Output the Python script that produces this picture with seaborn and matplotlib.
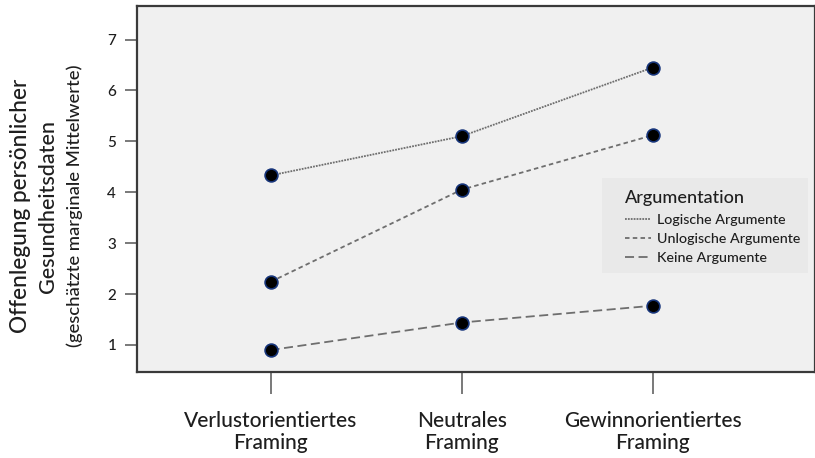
import pandas as pd
import numpy as np
import matplotlib.pyplot as plt
from matplotlib.patches import Rectangle
import seaborn as sns

############################################################
# DATA
############################################################
framing = ["Verlustorientiertes\nFraming", "Neutrales\nFraming", "Gewinnorientiertes\nFraming"]
argument_groups = ["Logische Argumente", "Unlogische Argumente", "Keine Argumente"]

logisch = [4.33, 5.10, 6.45]
unlogisch = [2.24, 4.05, 5.12]
keine = [0.90, 1.44, 1.77]

y_ticks = [1, 2, 3, 4, 5, 6, 7]

df = pd.DataFrame({
    "framing": framing * 3,
    "argumentation": np.repeat(argument_groups, 3),
    "wert": logisch + unlogisch + keine,
})

############################################################
# STYLE
############################################################
sns.set_style("white")
plt.rcParams["font.family"] = ["Lato", "DejaVu Sans"]
plt.rcParams["font.weight"] = "medium"
text_col = "#1e1e1e"
line_col = "#6e6e6e"

fig = plt.figure(figsize=(8.15, 4.58), dpi=100)
ax = fig.add_axes([0.168, 0.188, 0.832, 0.799])
ax.set_facecolor("#f0f0f0")

dashes = {
    "Logische Argumente": (1, 0.6),
    "Unlogische Argumente": (2.5, 1.8),
    "Keine Argumente": (5, 2.5),
}

sns.lineplot(
    data=df, x="framing", y="wert", style="argumentation",
    dashes=dashes, color=line_col, linewidth=1.3, ax=ax,
)
sns.scatterplot(
    data=df, x="framing", y="wert", color="black",
    edgecolor="#17357a", linewidth=1.2, s=85, zorder=5,
    legend=False, ax=ax,
)

############################################################
# AXES
############################################################
ax.set_xlim(-0.70, 2.85)
ax.set_ylim(0.47, 7.66)
ax.set_yticks(y_ticks)
ax.set_xlabel("")
ax.set_ylabel("")

for s in ax.spines.values():
    s.set_color("#3a3a3a")
    s.set_linewidth(1.6)

ax.tick_params(axis="y", left=True, length=9, width=1.1, color="#555555",
               labelsize=11, labelcolor=text_col, pad=6)
ax.tick_params(axis="x", bottom=True, length=16, width=1.1, color="#555555",
               labelsize=15, labelcolor=text_col, pad=12)
for lbl in ax.get_xticklabels():
    lbl.set_linespacing(1.15)

# y label in three lines with different sizes
fig.text(0.025, 0.55, "Offenlegung persönlicher", rotation=90,
         ha="center", va="center", fontsize=16.3, color=text_col)
fig.text(0.059, 0.55, "Gesundheitsdaten", rotation=90,
         ha="center", va="center", fontsize=15.5, color=text_col)
fig.text(0.092, 0.55, "(geschätzte marginale Mittelwerte)", rotation=90,
         ha="center", va="center", fontsize=13.3, color=text_col)

############################################################
# LEGEND
############################################################
ax.add_patch(Rectangle((0.686, 0.270), 0.304, 0.260, transform=ax.transAxes,
                       facecolor="#e9e9e9", edgecolor="none", zorder=3))

handles, labels = ax.get_legend_handles_labels()
leg = ax.legend(
    handles, labels, title="Argumentation",
    loc="upper left", bbox_to_anchor=(0.720, 0.496),
    fontsize=10.3, title_fontsize=13, frameon=False,
    handlelength=1.8, handletextpad=0.4, labelspacing=0.5,
    borderpad=0, borderaxespad=0,
)
leg.set_zorder(4)
leg._legend_box.align = "left"
for t in leg.get_texts():
    t.set_color(text_col)
leg.get_title().set_color(text_col)

fig.savefig("out.png", dpi=100, facecolor="white")
